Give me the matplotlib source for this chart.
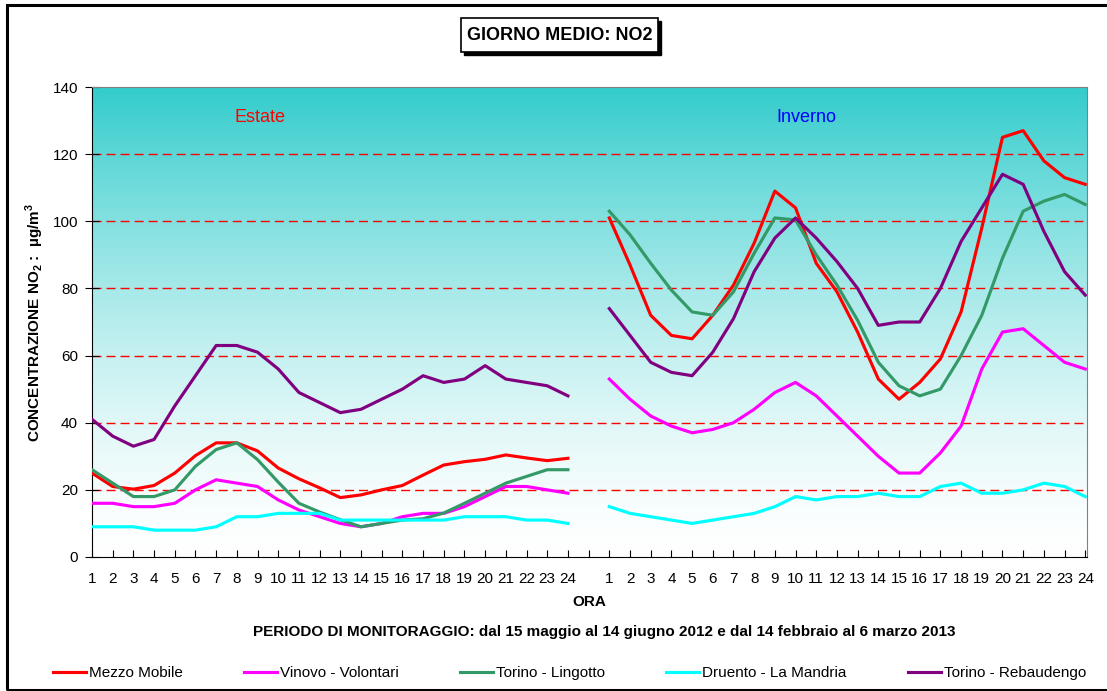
import numpy as np
import matplotlib
matplotlib.use("Agg")
import matplotlib.pyplot as plt
from matplotlib.patches import Rectangle

plt.rcParams['font.family'] = ['Liberation Sans', 'DejaVu Sans']
plt.rcParams['mathtext.fontset'] = 'custom'
plt.rcParams['mathtext.rm'] = 'Liberation Sans'
plt.rcParams['mathtext.bf'] = 'Liberation Sans:bold'

# hours of the average day
ore = list(range(1, 25))

# summer campaign (Estate)
estate_mezzo = [25, 21, 20.2, 21.3, 25, 30.2, 34, 34, 31.6, 26.5, 23.3, 20.6,
                17.7, 18.5, 20, 21.3, 24.4, 27.4, 28.4, 29.1, 30.4, 29.5, 28.7, 29.4]
estate_vinovo = [16, 16, 15, 15, 16, 20, 23, 22, 21, 17, 14, 12,
                 10, 9, 10, 12, 13, 13, 15, 18, 21, 21, 20, 19]
estate_lingotto = [26, 22, 18, 18, 20, 27, 32, 34, 29, 22.3, 16, 13.4,
                   11.1, 9, 10, 11, 11.4, 13.1, 16, 19, 22, 24, 26, 26]
estate_druento = [9, 9, 9, 8, 8, 8, 9, 12, 12, 13, 13, 13,
                  11, 11, 11, 11, 11, 11, 12, 12, 12, 11, 11, 10]
estate_rebaudengo = [41, 36, 33, 35, 45, 54, 63, 63, 61, 56, 49, 46,
                     43, 44, 47, 50, 54, 52, 53, 57, 53, 52, 51, 48]

# winter campaign (Inverno)
inverno_mezzo = [101, 87, 72, 66, 65, 72, 81, 93.5, 109, 104, 87.5, 79,
                 67, 53, 47, 52, 59, 73, 98, 125, 127, 118, 113, 111]
inverno_vinovo = [53, 47, 42, 39, 37, 38, 40, 44, 49, 52, 48, 42,
                  36, 30, 25, 25, 31, 39, 56, 67, 68, 63, 58, 56]
inverno_lingotto = [103, 96, 87.5, 79.5, 73, 72, 79, 90.5, 101, 100.4, 90, 81,
                    70.5, 58, 51, 48, 50, 60, 72, 89, 103, 106, 108, 105]
inverno_druento = [15, 13, 12, 11, 10, 11, 12, 13, 15, 18, 17, 18,
                   18, 19, 18, 18, 21, 22, 19, 19, 20, 22, 21, 18]
inverno_rebaudengo = [74, 66, 58, 55, 54, 61, 71, 85, 95, 101, 95, 88,
                      80, 69, 70, 70, 80, 94, 104, 114, 111, 97, 85, 78]

stazioni = ['Mezzo Mobile', 'Vinovo - Volontari', 'Torino - Lingotto',
            'Druento - La Mandria', 'Torino - Rebaudengo']
colori = ['#FF0000', '#FF00FF', '#339966', '#00FFFF', '#800080']
estate = [estate_mezzo, estate_vinovo, estate_lingotto, estate_druento, estate_rebaudengo]
inverno = [inverno_mezzo, inverno_vinovo, inverno_lingotto, inverno_druento, inverno_rebaudengo]

etichette_x = [str(h) for h in ore] + [''] + [str(h) for h in ore]
x = np.arange(len(etichette_x))

fig = plt.figure(figsize=(11.07, 6.91), dpi=100)
ax = fig.add_axes([92 / 1107, 134 / 691, 994.7 / 1107, 470 / 691])

# background gradient (turquoise at top to white at bottom)
f = np.linspace(0, 1, 256) ** 1.5
top = np.array([51, 204, 204]) / 255
grad = 1 - f[:, None] * (1 - top[None, :])
ax.imshow(grad[:, None, :], extent=(0, 48.07, 0, 140), origin='lower',
          aspect='auto', zorder=0)

for y in [20, 40, 60, 80, 100, 120]:
    ax.axhline(y, color='#FF0000', lw=1, linestyle=(0, (6.5, 3.6)), zorder=1)

linee = []
for nome, col, e, i in zip(stazioni, colori, estate, inverno):
    serie = e + [np.nan] + i
    l, = ax.plot(x, serie, color=col, lw=2.25, label=nome, zorder=3)
    linee.append(l)

ax.set_xlim(0, 48.07)
ax.set_ylim(0, 140)
ax.set_xticks(x)
ax.set_xticklabels(etichette_x)
ax.set_yticks(range(0, 141, 20))
ax.tick_params(axis='x', direction='in', length=5, pad=11, labelsize=11)
ax.tick_params(axis='y', direction='inout', length=10, pad=5, labelsize=11)
for s in ['top', 'right']:
    ax.spines[s].set_color('#808080')
for s in ['left', 'bottom']:
    ax.spines[s].set_color('black')

ax.set_xlabel('ORA', fontsize=11, fontweight='bold', labelpad=6)
ax.set_ylabel(r'CONCENTRAZIONE NO$_\mathbf{2}$ :  µg/m$^\mathbf{3}$',
              fontsize=11, fontweight='bold')
ax.yaxis.set_label_coords((46 - 92) / 994.7, 0.5)

ax.text(8.12, 130.9, 'Estate', color='#FF0000', fontsize=13, ha='center', va='center')
ax.text(34.5, 130.9, 'Inverno', color='#0000FF', fontsize=13, ha='center', va='center')

fig.text(604 / 1107, 1 - 632 / 691,
         'PERIODO DI MONITORAGGIO: dal 15 maggio al 14 giugno 2012 e dal 14 febbraio al 6 marzo 2013',
         fontsize=11, fontweight='bold', ha='center', va='center')

# title box with shadow
fig.patches.append(Rectangle((464 / 1107, 1 - 55 / 691), 197 / 1107, 34 / 691,
                             transform=fig.transFigure, facecolor='black',
                             edgecolor='black', zorder=5))
fig.patches.append(Rectangle((461 / 1107, 1 - 52 / 691), 197 / 1107, 34 / 691,
                             transform=fig.transFigure, facecolor='white',
                             edgecolor='black', lw=1.2, zorder=6))
fig.text(559.5 / 1107, 1 - 35.5 / 691, 'GIORNO MEDIO: NO2', fontsize=13,
         fontweight='bold', ha='center', va='center', zorder=7)

# outer frame
fig.patches.append(Rectangle((6.5 / 1107, 1.5 / 691), 1120 / 1107, 684.5 / 691,
                             transform=fig.transFigure, fill=False,
                             edgecolor='black', lw=2.2, zorder=8))

fig.legend(handles=linee, loc='center left', bbox_to_anchor=(53 / 1107, 1 - 673 / 691),
           ncol=5, frameon=False, fontsize=11, handlelength=2.16, handletextpad=0.2,
           columnspacing=4.0, borderpad=0, borderaxespad=0)

fig.savefig('out.png', dpi=100)
